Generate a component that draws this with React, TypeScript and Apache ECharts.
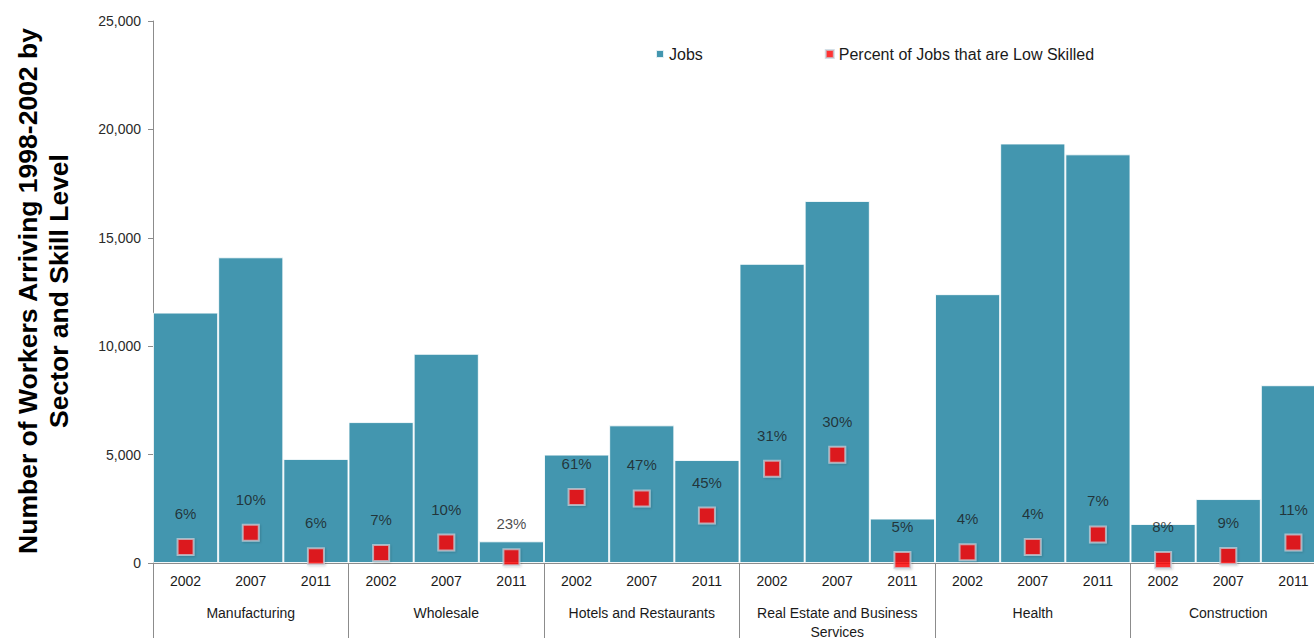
import React, { useEffect, useRef } from "react";
import * as echarts from "echarts";

const sectors = [
  "Manufacturing",
  "Wholesale",
  "Hotels and Restaurants",
  "Real Estate and Business\nServices",
  "Health",
  "Construction",
];
const years = ["2002", "2007", "2011"];
const yearLabels = sectors.flatMap(() => years);

// Number of jobs per sector/year
const jobs = [
  11550, 14100, 4800,
  6500, 9650, 1000,
  5000, 6350, 4750,
  13800, 16700, 2050,
  12400, 19350, 18850,
  1800, 2950, 8200,
];
// Low-skilled jobs (marker heights)
const lowSkilledJobs = [
  740, 1400, 310,
  460, 940, 270,
  3050, 2980, 2190,
  4350, 4990, 140,
  500, 740, 1320,
  140, 320, 940,
];
// Percent labels shown above markers
const percentLabels = [
  "6%", "10%", "6%",
  "7%", "10%", "23%",
  "61%", "47%", "45%",
  "31%", "30%", "5%",
  "4%", "4%", "7%",
  "8%", "9%", "11%",
];
const yTicks = [0, 5000, 10000, 15000, 20000, 25000];

const FONT = "'Liberation Sans', Arial, sans-serif";

export default function App() {
  const ref = useRef<HTMLDivElement>(null);
  useEffect(() => {
    if (!ref.current) return;
    const chart = echarts.init(ref.current, undefined, { renderer: "svg" });
    chart.setOption({
      animation: false,
      backgroundColor: "#ffffff",
      textStyle: { fontFamily: FONT },
      legend: {
        left: 650,
        top: 41,
        itemWidth: 8,
        itemHeight: 8,
        itemGap: 122,
        icon: "rect",
        textStyle: { fontFamily: FONT, fontSize: 16, color: "#1a1a1a" },
        data: ["Jobs", "Percent of Jobs that are Low Skilled"],
      },
      grid: {
        left: 153,
        width: 1173,
        top: 21,
        bottom: 75,
        containLabel: false,
        outerBoundsMode: "none",
      },
      xAxis: [
        {
          type: "category",
          data: yearLabels,
          position: "bottom",
          axisLine: { show: true, lineStyle: { color: "#8c8c8c", width: 1 } },
          axisTick: { show: false },
          axisLabel: {
            interval: 0,
            margin: 11,
            fontFamily: FONT,
            fontSize: 14,
            color: "#1a1a1a",
          },
        },
        {
          type: "category",
          data: sectors,
          position: "bottom",
          axisLine: { show: true, lineStyle: { color: "#8c8c8c", width: 1 } },
          axisTick: {
            show: true,
            interval: 0,
            length: 80,
            lineStyle: { color: "#8c8c8c", width: 1 },
          },
          axisLabel: {
            interval: 0,
            margin: 40,
            fontFamily: FONT,
            fontSize: 14,
            lineHeight: 19,
            color: "#1a1a1a",
          },
        },
      ],
      yAxis: {
        type: "value",
        min: 0,
        max: 25000,
        interval: 5000,
        splitLine: { show: false },
        axisLine: { show: true, lineStyle: { color: "#8c8c8c", width: 1 } },
        axisTick: { show: true, length: 5, lineStyle: { color: "#8c8c8c" } },
        axisLabel: {
          margin: 12,
          fontFamily: FONT,
          fontSize: 14,
          color: "#2a2a2a",
          formatter: (v: number) =>
            yTicks.includes(v) ? v.toLocaleString("en-US") : "",
        },
      },
      graphic: [
        {
          type: "text",
          x: 43,
          y: 291,
          rotation: Math.PI / 2,
          style: {
            text: "Number of Workers Arriving 1998-2002 by\nSector and Skill Level",
            fontFamily: FONT,
            fontWeight: "bold",
            fontSize: 26.5,
            lineHeight: 31,
            fill: "#000000",
            align: "center",
            verticalAlign: "middle",
          },
        },
      ],
      series: [
        {
          name: "Jobs",
          type: "bar",
          xAxisIndex: 0,
          data: jobs,
          barCategoryGap: "0%",
          itemStyle: {
            color: "#4396AF",
            borderColor: "rgba(255,255,255,0.85)",
            borderWidth: 1,
          },
        },
        {
          name: "Percent of Jobs that are Low Skilled",
          type: "scatter",
          xAxisIndex: 0,
          data: lowSkilledJobs,
          symbol: "rect",
          symbolSize: 16,
          itemStyle: {
            color: "#ff0000",
            borderColor: "rgba(195,210,220,0.9)",
            borderWidth: 2,
            shadowColor: "rgba(0,0,0,0.2)",
            shadowBlur: 2,
            shadowOffsetX: 1,
            shadowOffsetY: 1,
          },
          label: {
            show: true,
            position: "top",
            distance: 17,
            fontFamily: FONT,
            fontSize: 15,
            color: "#1a1a1a",
            formatter: (p: any) => percentLabels[p.dataIndex],
          },
        },
      ],
    });
    return () => chart.dispose();
  }, []);
  return (
    <div
      ref={ref}
      style={{
        position: "absolute",
        left: 0,
        top: 0,
        width: 1314,
        height: 638,
        overflow: "hidden",
      }}
    />
  );
}
